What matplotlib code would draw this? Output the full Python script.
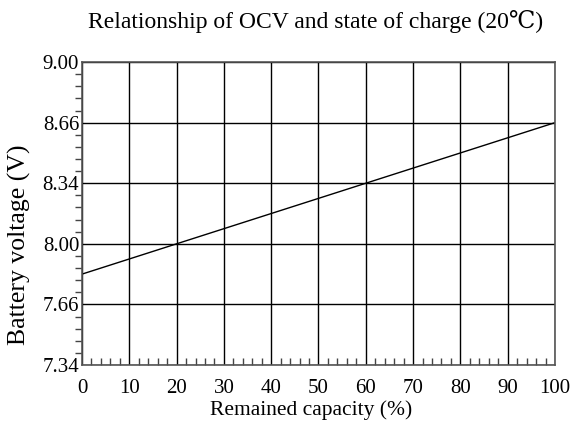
import numpy as np
import matplotlib
matplotlib.use("Agg")
import matplotlib.pyplot as plt
from matplotlib.ticker import MultipleLocator, FixedLocator, FixedFormatter

# data
capacity = [0, 20, 60, 100]
voltage = [7.83, 8.00, 8.34, 8.66]
y_ticks = [7.34, 7.66, 8.00, 8.34, 8.66, 9.00]
y_tick_labels = ["7.34", "7.66", "8.00", "8.34", "8.66", "9.00"]
x_ticks = list(range(0, 101, 10))

plt.rcParams['font.family'] = ['Liberation Serif', 'DejaVu Serif']

pos = np.arange(len(y_ticks), dtype=float)
def fwd(v):
    return np.interp(v, y_ticks, pos)
def inv(p):
    return np.interp(p, pos, y_ticks)

fig = plt.figure(figsize=(5.75, 4.34), dpi=100)
ax = fig.add_axes([0.1426, 0.159, 0.8226, 0.698])
ax.set_yscale('function', functions=(fwd, inv))

ax.plot(capacity, voltage, color='black', lw=1.0)

ax.set_xlim(0, 100)
ax.set_ylim(7.34, 9.00)

ax.xaxis.set_major_locator(FixedLocator(x_ticks))
ax.xaxis.set_minor_locator(MultipleLocator(2))
ax.yaxis.set_major_locator(FixedLocator(y_ticks))
ax.yaxis.set_major_formatter(FixedFormatter(y_tick_labels))
minor_y = []
for a, b in zip(y_ticks[:-1], y_ticks[1:]):
    for k in range(1, 5):
        minor_y.append(a + (b - a) * k / 5)
ax.yaxis.set_minor_locator(FixedLocator(minor_y))

ax.grid(True, which='major', color='black', lw=1.0)
ax.tick_params(axis='x', which='major', length=0, pad=10, labelsize=15)
ax.tick_params(axis='x', which='minor', direction='in', length=5, width=1, color='#444444')
ax.tick_params(axis='y', which='major', length=0, pad=2, labelsize=15)
ax.tick_params(axis='y', which='minor', direction='out', length=5, width=1, color='#444444')

for s in ax.spines.values():
    s.set_color('#555555')
    s.set_linewidth(1.2)

ax.set_xlabel('Remained capacity (%)', fontsize=15.5)
ax.xaxis.set_label_coords(0.485, -0.115)
ax.set_ylabel('Battery voltage (V)', fontsize=18.5)
ax.yaxis.set_label_coords(-0.108, 0.396)
fig.text(0.548, 0.95, 'Relationship of OCV and state of charge (20℃)', ha='center', va='center', fontsize=17)

fig.savefig('out.png', dpi=100)
